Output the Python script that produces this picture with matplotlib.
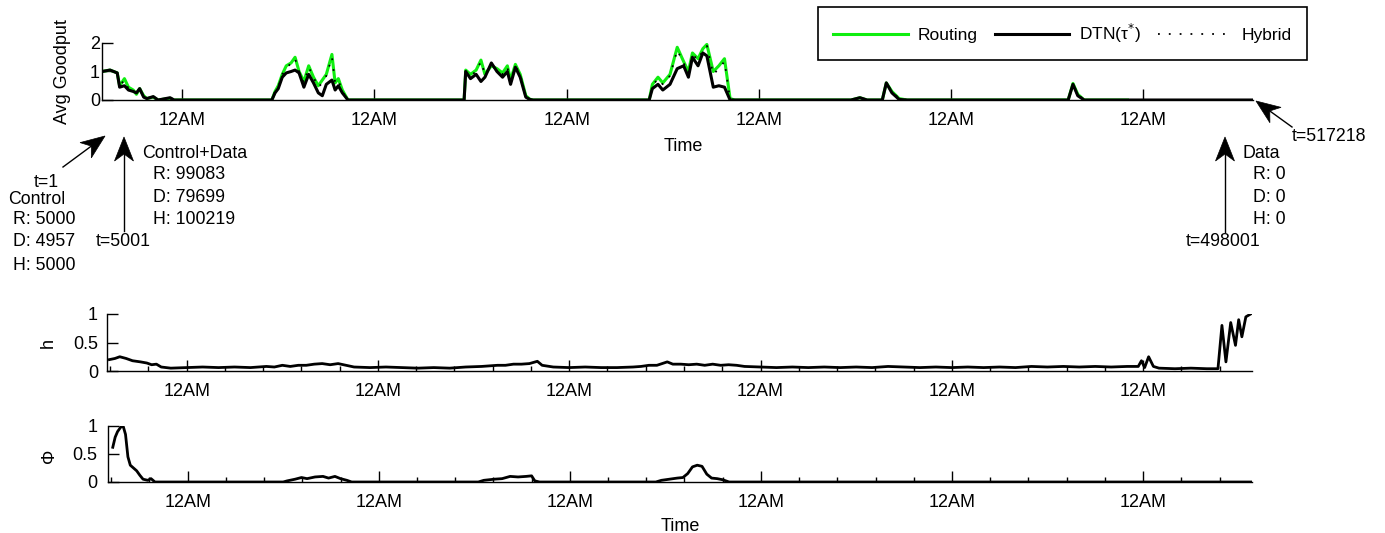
import matplotlib
matplotlib.use("Agg")
import matplotlib.pyplot as plt
import numpy as np
from matplotlib.lines import Line2D
from matplotlib.patches import Polygon
from matplotlib.ticker import FixedLocator

plt.rcParams["font.family"] = ["Liberation Sans", "DejaVu Sans"]

W, H = 1385, 533
SPAN_HOURS = 517218 / 3600.0      # last sample, t=517218 s
FIRST_MIDNIGHT = 10.0             # trace starts at 2 PM
NAN = float("nan")

# average goodput per scheme, hours since t=1
goodput_hours = [
    0, 1, 1.9, 2.2, 2.8, 3.3, 3.9, 4.3, 4.7, 5.2, 5.6, 6.4, 7.0, 8.5, 9.0,
    21.2, 21.6, 22.0, 22.5, 23.0, 23.6, 24.1, 24.6, 25.2, 25.8, 26.4, 27.0,
    27.5, 28.0, 28.7, 29.1, 29.5, 30.0, 30.7,
    45.2, 45.4, 46.0, 46.7, 47.3, 47.8, 48.6, 49.3, 50.0, 50.6, 51.0, 51.6,
    52.2, 52.9, 53.4, 53.8,
    68.3, 68.7, 69.4, 70.0, 70.9, 71.8, 72.6, 73.2, 73.7, 74.4, 75.0, 75.5,
    76.3, 77.0, 77.7, 78.4, 79.0,
    93.5, 94.6, 95.5, 97.4, 97.9, 98.6, 99.5, 100.5,
    120.6, 121.2, 121.8, 122.6, 128.0, SPAN_HOURS,
]
routing = [
    1.0, 1.05, 0.95, 0.5, 0.75, 0.45, 0.35, 0.2, 0.4, 0.15, 0.05, 0.1, 0.0, 0.06, 0.0,
    0.0, 0.3, 0.5, 0.9, 1.2, 1.3, 1.5, 1.0, 0.65, 1.2, 0.8, 0.5,
    0.7, 0.9, 1.6, 0.6, 0.75, 0.35, 0.0,
    0.0, 1.05, 0.9, 1.05, 1.4, 0.9, 1.2, 1.1, 0.95, 1.2, 0.7, 1.25,
    0.9, 0.15, 0.03, 0.0,
    0.0, 0.55, 0.8, 0.6, 0.9, 1.85, 1.35, 1.0, 1.65, 1.45, 1.8, 1.95,
    1.0, 1.2, 1.45, 0.05, 0.0,
    0.0, 0.08, 0.0, 0.0, 0.6, 0.3, 0.05, 0.0,
    0.0, 0.58, 0.2, 0.0, 0.0, NAN,
]
dtn = [
    1.0, 1.05, 0.95, 0.45, 0.5, 0.35, 0.3, 0.25, 0.4, 0.1, 0.05, 0.12, 0.0, 0.08, 0.0,
    0.0, 0.25, 0.4, 0.8, 0.95, 1.0, 1.05, 0.95, 0.45, 0.9, 0.6, 0.25,
    0.15, 0.55, 0.7, 0.35, 0.5, 0.25, 0.0,
    0.0, 1.0, 0.75, 0.9, 0.65, 0.8, 1.3, 1.0, 0.8, 1.0, 0.55, 1.15,
    0.8, 0.1, 0.02, 0.0,
    0.0, 0.4, 0.55, 0.35, 0.55, 1.1, 1.2, 0.8, 1.5, 1.2, 1.65, 1.55,
    0.45, 0.5, 0.45, 0.0, 0.0,
    0.0, 0.08, 0.0, 0.0, 0.6, 0.25, 0.02, 0.0,
    0.0, 0.55, 0.15, 0.0, 0.0, 0.0,
]
hybrid = [
    1.0, 1.05, 0.95, 0.5, 0.7, 0.4, 0.3, 0.25, 0.4, 0.1, 0.05, 0.1, 0.0, 0.06, 0.0,
    0.0, 0.3, 0.45, 0.9, 1.1, 1.3, 1.45, 1.0, 0.6, 1.15, 0.8, 0.45,
    0.6, 0.85, 1.5, 0.6, 0.7, 0.3, 0.0,
    0.0, 1.0, 0.85, 1.0, 1.35, 0.9, 1.25, 1.05, 0.9, 1.15, 0.65, 1.2,
    0.9, 0.1, 0.02, 0.0,
    0.0, 0.5, 0.75, 0.55, 0.85, 1.75, 1.3, 0.95, 1.6, 1.4, 1.75, 1.9,
    0.9, 1.1, 1.35, 0.02, 0.0,
    0.0, 0.08, 0.0, 0.0, 0.6, 0.3, 0.05, 0.0,
    0.0, 0.56, 0.2, 0.0, 0.0, 0.0,
]

# hybrid weight h
h_hours = [
    0.3, 1.0, 1.6, 2.4, 3.2, 4.2, 5.0, 5.6, 6.2, 6.8, 8, 10, 12, 14, 16, 18, 20,
    21, 22, 23, 24, 25, 26, 27, 28, 29, 30, 31, 33, 35, 37, 39, 41, 43, 45, 47,
    49, 50, 51, 52, 53, 54, 54.6, 56, 58, 60, 62, 64, 66, 67, 68, 69, 70.3, 71,
    72, 73, 74, 75, 76, 77, 78, 79, 80, 82, 84, 86, 88, 90, 92, 94, 96, 98, 100,
    102, 104, 106, 108, 110, 112, 114, 116, 118, 120, 122, 124, 126, 128, 129.4,
    129.8, 130.2, 130.7, 131.3, 132, 134, 136, 138, 139.4, 139.9, 140.4, 141.0,
    141.6, 142.0, 142.4, 142.9, 143.5,
]
h_values = [
    0.2, 0.22, 0.25, 0.22, 0.18, 0.16, 0.14, 0.11, 0.12, 0.07, 0.05, 0.06, 0.07,
    0.06, 0.07, 0.06, 0.08, 0.07, 0.1, 0.08, 0.1, 0.1, 0.12, 0.13, 0.11, 0.13,
    0.1, 0.07, 0.06, 0.07, 0.06, 0.05, 0.06, 0.05, 0.07, 0.08, 0.1, 0.1, 0.12,
    0.12, 0.13, 0.17, 0.1, 0.07, 0.06, 0.07, 0.06, 0.06, 0.07, 0.08, 0.1, 0.1,
    0.16, 0.12, 0.12, 0.11, 0.12, 0.1, 0.12, 0.1, 0.11, 0.1, 0.08, 0.07, 0.06,
    0.07, 0.06, 0.07, 0.06, 0.07, 0.06, 0.08, 0.07, 0.06, 0.07, 0.06, 0.07, 0.06,
    0.07, 0.06, 0.08, 0.07, 0.08, 0.07, 0.08, 0.07, 0.08, 0.08, 0.18, 0.06, 0.25,
    0.08, 0.05, 0.04, 0.05, 0.04, 0.04, 0.8, 0.16, 0.85, 0.45, 0.9, 0.6, 0.95,
    1.0,
]

# control share phi
phi_hours = [
    0.6, 0.9, 1.2, 1.6, 1.9, 2.2, 2.5, 2.8, 3.2, 3.6, 4.0, 4.4, 5.0, 5.4, 5.9,
    22.0, 22.5, 23.5, 24.3, 25, 26, 27, 27.7, 28.5, 29.2, 30, 30.6,
    46.5, 47.2, 48.5, 49.5, 50.5, 51.5, 52.5, 53.2, 53.6, 54.2,
    68.8, 69.5, 70.5, 71.5, 72.2, 72.8, 73.4, 74.0, 74.6, 75.2, 75.8, 76.5,
    77.2, 78.0, SPAN_HOURS,
]
phi_values = [
    0.62, 0.8, 0.9, 0.98, 1.0, 0.85, 0.45, 0.3, 0.25, 0.2, 0.12, 0.05, 0.03, 0.06, 0.0,
    0.0, 0.02, 0.05, 0.08, 0.06, 0.09, 0.1, 0.07, 0.1, 0.06, 0.03, 0.0,
    0.0, 0.03, 0.05, 0.06, 0.1, 0.09, 0.1, 0.11, 0.02, 0.0,
    0.0, 0.03, 0.05, 0.07, 0.08, 0.15, 0.27, 0.3, 0.28, 0.14, 0.07, 0.06,
    0.04, 0.0, 0.0,
]

# phase annotations: (text, x, y, ha) in pixels from the top-left corner
phase_labels = [
    ("t=1", 46, 182, "center"),
    ("Control", 8, 199, "left"),
    ("R: 5000", 13, 220, "left"),
    ("D: 4957", 13, 242, "left"),
    ("H: 5000", 13, 265, "left"),
    ("t=5001", 123, 242, "center"),
    ("Control+Data", 142, 153, "left"),
    ("R: 99083", 153, 175, "left"),
    ("D: 79699", 153, 197, "left"),
    ("H: 100219", 153, 219, "left"),
    ("t=517218", 1292, 137, "left"),
    ("Data", 1243, 153, "left"),
    ("R: 0", 1253, 175, "left"),
    ("D: 0", 1253, 197, "left"),
    ("H: 0", 1253, 219, "left"),
    ("t=498001", 1223, 242, "center"),
]
# (tail, tip) in pixels
phase_arrows = [
    ((63, 167), (105, 136)),
    ((124, 231), (124, 137)),
    ((1225, 232), (1225, 137)),
    ((1292, 127), (1256, 101)),
]


def _fig_xy(x, y):
    return x / W, 1 - y / H


def _add_axes(fig, left, top, right, bottom):
    x0, y0 = _fig_xy(left, bottom)
    return fig.add_axes([x0, y0, (right - left) / W, (bottom - top) / H])


def _style_axis(ax, yticks, ylabels, ypad, minor=False):
    ax.set_xlim(0, SPAN_HOURS)
    ax.set_ylim(yticks[0], yticks[-1])
    for side in ("top", "right"):
        ax.spines[side].set_visible(False)
    for side in ("left", "bottom"):
        ax.spines[side].set_linewidth(1.0)

    midnights = np.arange(FIRST_MIDNIGHT, SPAN_HOURS, 24)
    ax.xaxis.set_major_locator(FixedLocator(midnights))
    ax.set_xticklabels(["12AM"] * len(midnights))
    if minor:
        ax.xaxis.set_minor_locator(FixedLocator(np.arange(FIRST_MIDNIGHT % 4.8, SPAN_HOURS, 4.8)))
    ax.set_yticks(yticks)
    ax.set_yticklabels(ylabels)

    ax.tick_params(axis="x", which="major", direction="in", length=8, width=1.0, pad=8.5, labelsize=13)
    ax.tick_params(axis="x", which="minor", direction="in", length=3.5, width=1.0)
    ax.tick_params(axis="y", direction="in", length=8, width=1.0, pad=ypad, labelsize=13)


def _draw_arrow(fig, tail, tip, length=24, half_width=9.5, notch=17):
    tail = np.asarray(tail, float)
    tip = np.asarray(tip, float)
    u = (tip - tail) / np.hypot(*(tip - tail))
    n = np.array([-u[1], u[0]])
    back = tip - notch * u
    head = [tip, tip - length * u + half_width * n, back, tip - length * u - half_width * n]

    xs, ys = zip(*[_fig_xy(*tail), _fig_xy(*back)])
    fig.add_artist(Line2D(xs, ys, color="black", lw=1.0, transform=fig.transFigure))
    fig.add_artist(Polygon([_fig_xy(*p) for p in head], closed=True, fc="black", ec="black",
                           lw=0.5, transform=fig.transFigure))


fig = plt.figure(figsize=(W / 100, H / 100), dpi=100)

# goodput
ax = _add_axes(fig, 102, 43, 1253, 100)
ax.plot(goodput_hours, routing, color="#10ee10", lw=2.2, label="Routing", zorder=2)
ax.plot(goodput_hours, dtn, color="black", lw=2.2, label="DTN(τ$^{*}$)", zorder=3)
ax.plot(goodput_hours, hybrid, color="black", lw=1.3, ls=(0, (1, 5)), label="Hybrid", zorder=4)
_style_axis(ax, [0, 1, 2], ["0", "1", "2"], ypad=1.5)
ax.set_ylabel("Avg Goodput", fontsize=13)
ax.yaxis.set_label_coords(-0.027, 0.5)
ax.set_xlabel("Time", fontsize=13)
ax.xaxis.set_label_coords(0.505, -0.66)
leg = ax.legend(loc="upper right", bbox_to_anchor=_fig_xy(1307, 7), bbox_transform=fig.transFigure,
                ncol=3, fontsize=12.5, fancybox=False, framealpha=1, edgecolor="black",
                borderaxespad=0, borderpad=0.85, handlelength=4.3, handletextpad=0.55,
                columnspacing=1.0)
leg.get_frame().set_linewidth(1.2)

# h
ax_h = _add_axes(fig, 107, 314, 1252, 371)
ax_h.plot(h_hours, h_values, color="black", lw=2.0)
_style_axis(ax_h, [0, 0.5, 1], ["0", "0.5", "1"], ypad=6.5, minor=True)
ax_h.set_ylabel("h", fontsize=13)
ax_h.yaxis.set_label_coords(-0.044, 0.5)

# phi
ax_phi = _add_axes(fig, 108, 426, 1252, 482)
ax_phi.plot(phi_hours, phi_values, color="black", lw=2.0)
_style_axis(ax_phi, [0, 0.5, 1], ["0", "0.5", "1"], ypad=7.5, minor=True)
ax_phi.set_ylabel("Φ", fontsize=13)
ax_phi.yaxis.set_label_coords(-0.044, 0.46)
ax_phi.set_xlabel("Time", fontsize=13)
ax_phi.xaxis.set_label_coords(0.5, -0.64)

for text, x, y, ha in phase_labels:
    fig.text(*_fig_xy(x, y), text, ha=ha, va="center", fontsize=12.8)
for tail, tip in phase_arrows:
    _draw_arrow(fig, tail, tip)

fig.savefig("out.png", dpi=100)
